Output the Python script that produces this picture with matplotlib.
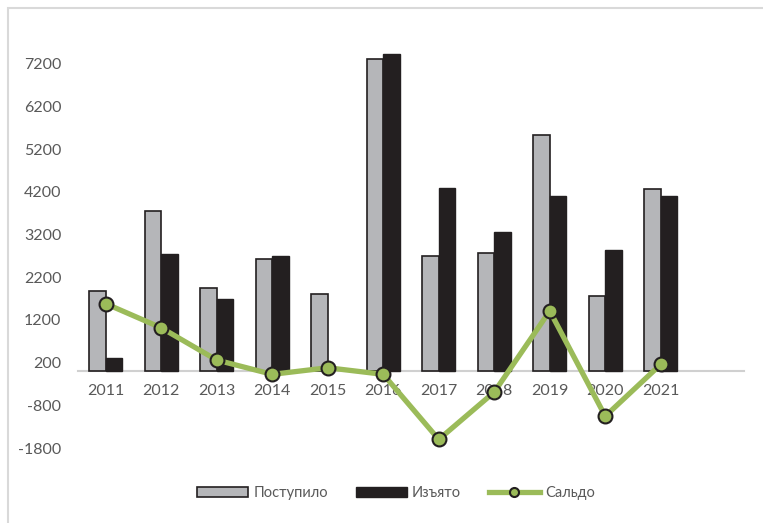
import numpy as np
import matplotlib
matplotlib.use("Agg")
import matplotlib.pyplot as plt
from matplotlib.patches import Rectangle

# Data
years = ["2011", "2012", "2013", "2014", "2015", "2016", "2017", "2018", "2019", "2020", "2021"]
postupilo = [1880, 3760, 1950, 2620, 1800, 7320, 2690, 2770, 5520, 1770, 4260]
izyato = [300, 2750, 1680, 2690, np.nan, 7420, 4290, 3260, 4100, 2830, 4100]
saldo = [1580, 1015, 260, -75, 80, -75, -1600, -490, 1410, -1055, 160]
yticks = list(range(-1800, 7201, 1000))

plt.rcParams['font.family'] = ['Lato', 'DejaVu Sans']
plt.rcParams['axes.unicode_minus'] = False

gray = "#B5B6B9"
dark = "#231F20"
green = "#9BBB59"
text_col = "#595959"

fig = plt.figure(figsize=(7.63, 5.23), dpi=100)
ax = fig.add_axes([78 / 763, 1 - 448 / 523, (744 - 78) / 763, (448 - 29.6) / 523])

x = np.arange(len(years))
w = 0.3
b1 = ax.bar(x - w / 2, postupilo, width=w, color=gray, edgecolor=dark, linewidth=1.2,
            label="Поступило", zorder=2)
b2 = ax.bar(x + w / 2, izyato, width=w, color=dark, edgecolor=dark, linewidth=1.0,
            label="Изъято", zorder=2)
ln, = ax.plot(x, saldo, color=green, linewidth=3.8, marker="o", markersize=10,
              markerfacecolor=green, markeredgecolor=dark, markeredgewidth=1.5,
              label="Сальдо", zorder=4)

ax.set_xlim(-0.5, 11.5)
ax.set_ylim(-1800, 8000)
ax.set_yticks(yticks)
ax.set_xticks(x)
ax.set_xticklabels(years)

for s in ["top", "right", "left"]:
    ax.spines[s].set_visible(False)
ax.spines["bottom"].set_position(("data", 0))
ax.spines["bottom"].set_color("#D0D0D0")
ax.spines["bottom"].set_linewidth(1.5)
ax.spines["bottom"].set_zorder(1)

ax.tick_params(axis="x", length=0, pad=9, labelsize=11.5, labelcolor=text_col)
ax.tick_params(axis="y", length=0, pad=12, labelsize=11.5, labelcolor=text_col)

leg = ax.legend([b1, b2, ln], ["Поступило", "Изъято", "Сальдо"],
                loc="center", bbox_to_anchor=(396 / 763, 1 - 493 / 523),
                bbox_transform=fig.transFigure, ncol=3, frameon=False,
                fontsize=10.5, handlelength=3.5, handleheight=0.7,
                handletextpad=0.35, columnspacing=1.9, markerscale=0.65)
for t in leg.get_texts():
    t.set_color(text_col)

# chart border (partly cropped in the reference)
fig.add_artist(Rectangle((8 / 763, -0.1), 1.2, 1 - 8 / 523 + 0.1, transform=fig.transFigure,
                         fill=False, edgecolor="#D9D9D9", linewidth=1.5))

fig.savefig("out.png", dpi=100)
